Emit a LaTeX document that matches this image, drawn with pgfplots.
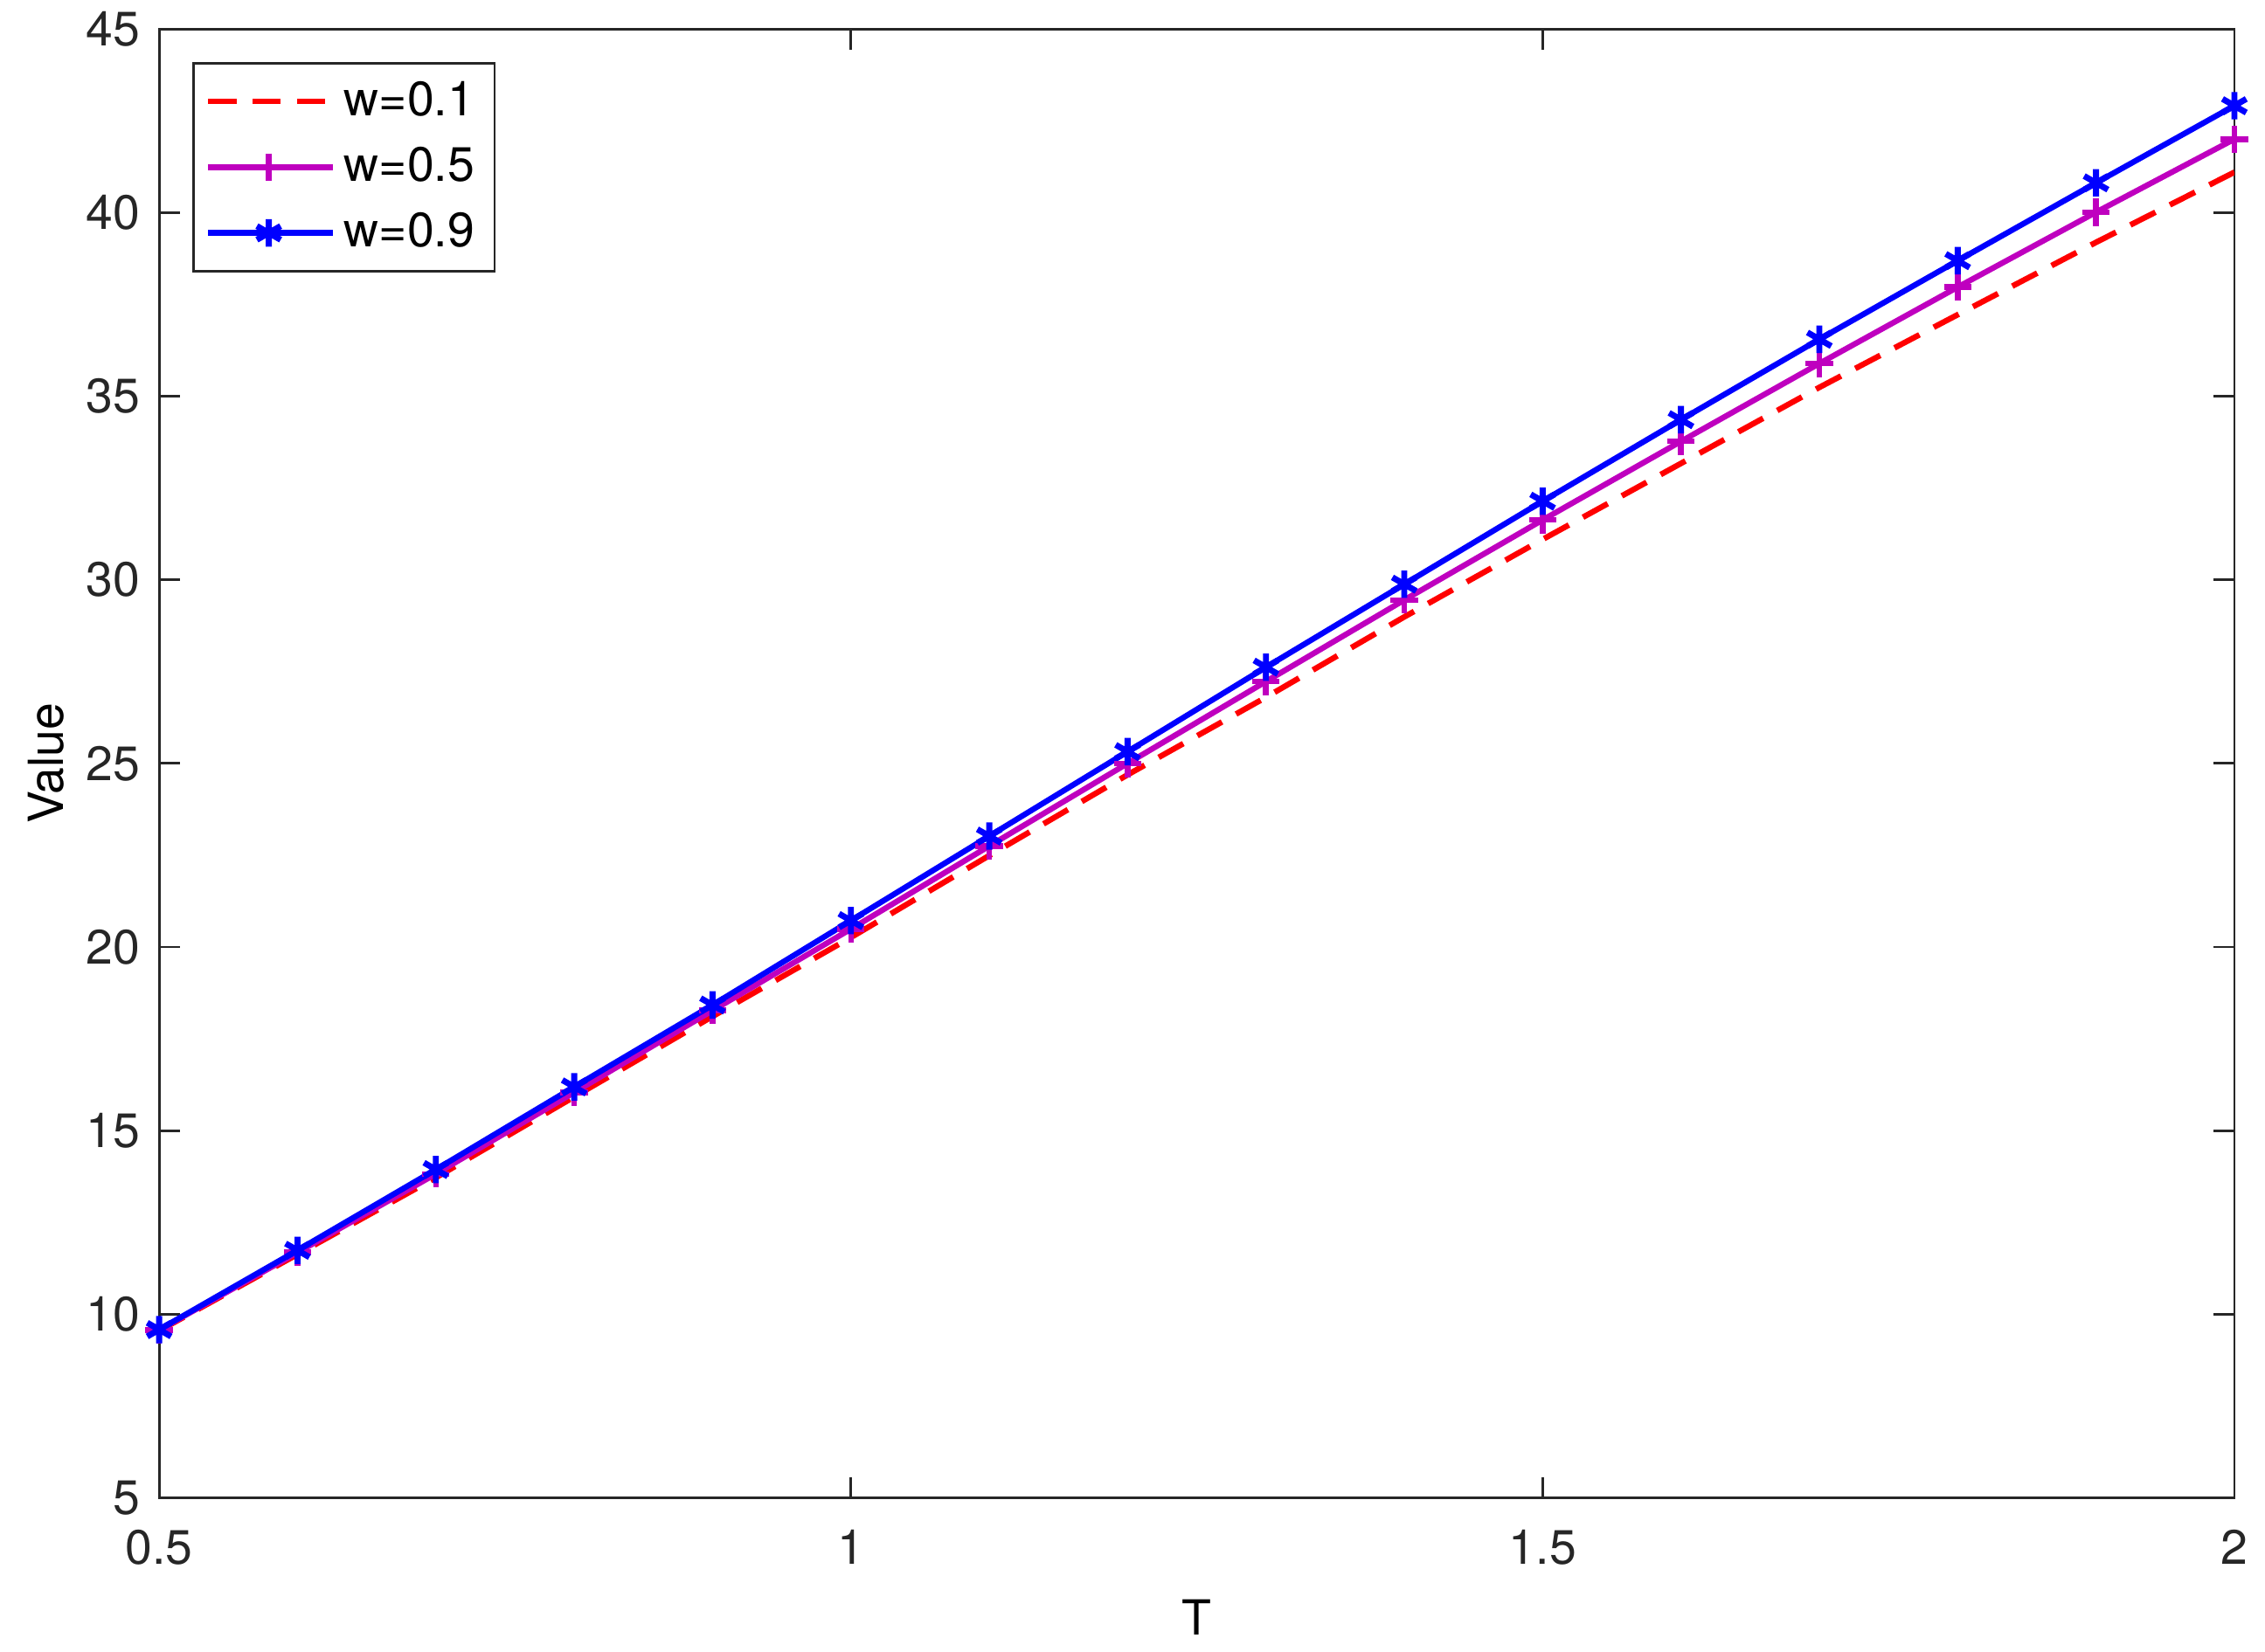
\documentclass[border=0pt]{standalone}
\usepackage{fontspec}
\setmainfont{TeX Gyre Heros}
\usepackage{pgfplots}
\pgfplotsset{compat=1.18}
\definecolor{cAx}{RGB}{38,38,38}
\definecolor{cRed}{RGB}{255,0,0}
\definecolor{cMag}{RGB}{191,0,191}
\definecolor{cBlue}{RGB}{0,0,255}

\begin{document}
\begin{tikzpicture}
\begin{axis}[
  scale only axis,
  width=515pt, height=364.6pt,
  xmin=0.5, xmax=2, ymin=5, ymax=45,
  xtick={0.5,1,1.5,2}, ytick={5,10,...,45},
  tick align=inside, major tick length=5.2pt,
  axis line style={cAx, line width=0.6pt},
  every tick/.style={cAx, line width=0.6pt},
  font=\fontsize{12}{14}\selectfont,
  tick label style={cAx, font=\fontsize{12}{14}\selectfont},
  /pgf/number format/assume math mode=true,
  xticklabel style={yshift=-4.5pt},
  yticklabel style={xshift=-1.2pt},
  xlabel={T}, ylabel={Value},
  label style={cAx, font=\fontsize{13.5}{16}\selectfont},
  every axis x label/.style={at={(rel axis cs:0.5,0)}, yshift=-29.7pt, anchor=center},
  every axis y label/.style={at={(rel axis cs:0,0.5)}, xshift=-28pt, rotate=90, anchor=center},
  legend cell align=left,
  legend style={at={(rel axis cs:0,1)}, xshift=8.2pt, yshift=-8.2pt, anchor=north west,
    draw=cAx, line width=0.6pt, font=\fontsize{12}{14}\selectfont,
    inner xsep=3pt, inner ysep=2.5pt, row sep=2.3pt},
  legend image code/.code={\draw[#1, mark repeat=2, mark phase=2]
    plot coordinates {(0pt,0pt) (15pt,0pt) (30pt,0pt)};
    \path (0pt,0pt) -- (31pt,0pt);},
]
\coordinate (sw) at (rel axis cs:0,0);
\coordinate (ne) at (rel axis cs:1,1);
\addplot[cRed, line width=1.4pt, dash pattern=on 7pt off 4pt] coordinates {
  (0.5,9.55) (0.6,11.63) (0.7,13.72) (0.8,15.92) (0.9,18.11) (1.0,20.26)
  (1.1,22.49) (1.2,24.69) (1.3,26.80) (1.4,28.99) (1.5,31.10) (1.6,33.17)
  (1.7,35.24) (1.8,37.22) (1.9,39.19) (2.0,41.10)};
\addplot[cMag, line width=1.4pt, mark=+, mark size=3.4pt, mark options={solid, line width=1.4pt}] coordinates {
  (0.5,9.57) (0.6,11.68) (0.7,13.82) (0.8,16.04) (0.9,18.27) (1.0,20.49)
  (1.1,22.75) (1.2,25.00) (1.3,27.23) (1.4,29.45) (1.5,31.63) (1.6,33.77)
  (1.7,35.89) (1.8,37.97) (1.9,40.01) (2.0,42.00)};
\addplot[cBlue, line width=1.4pt, mark=asterisk, mark size=3.4pt, mark options={solid, line width=1.5pt}] coordinates {
  (0.5,9.58) (0.6,11.74) (0.7,13.94) (0.8,16.19) (0.9,18.42) (1.0,20.72)
  (1.1,23.02) (1.2,25.32) (1.3,27.62) (1.4,29.88) (1.5,32.14) (1.6,34.36)
  (1.7,36.55) (1.8,38.69) (1.9,40.81) (2.0,42.91)};
\legend{w=0.1, w=0.5, w=0.9}
\end{axis}
\pgfresetboundingbox
\path ([shift={(-39.5pt,-38.2pt)}]sw) rectangle ([shift={(7.6pt,7.2pt)}]ne);
\end{tikzpicture}
\end{document}
